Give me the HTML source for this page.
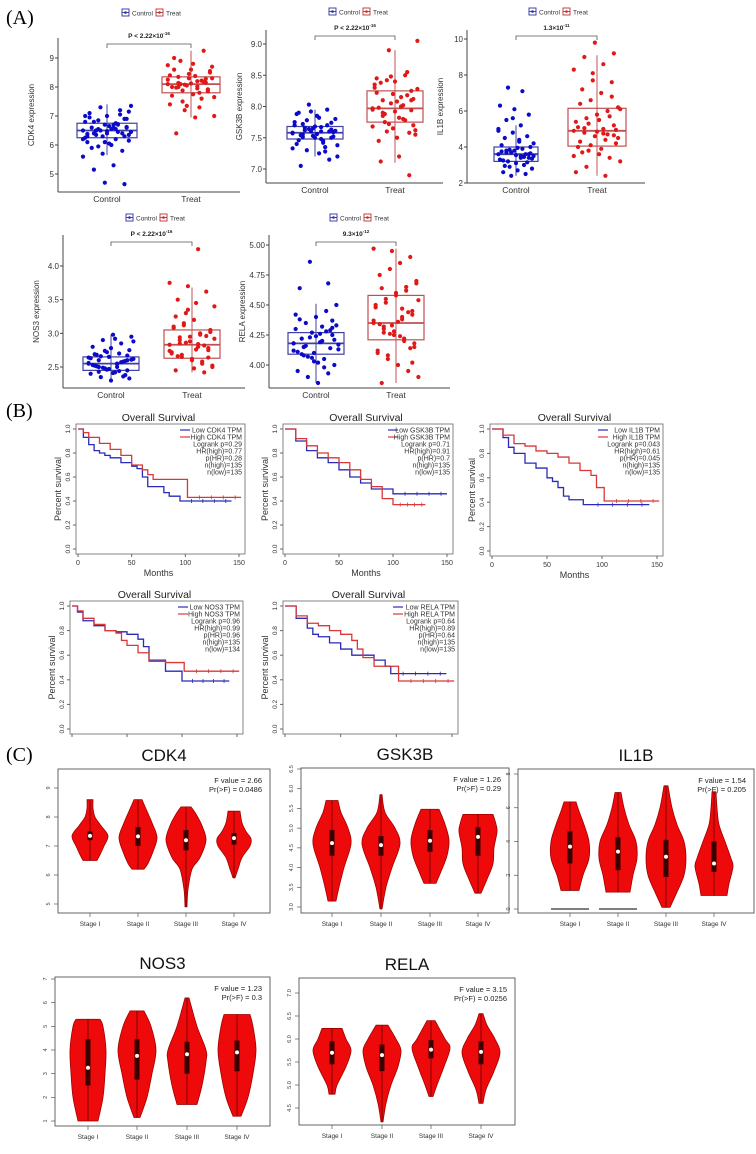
<!DOCTYPE html>
<html><head><meta charset="utf-8"><style>
html,body{margin:0;padding:0;background:#fff;}
svg{display:block;font-family:"Liberation Sans",sans-serif;}
</style></head><body>
<svg id="fig" width="756" height="1154" viewBox="0 0 756 1154" xmlns="http://www.w3.org/2000/svg">
<rect width="756" height="1154" fill="#fff"/>
<text x="6" y="24" font-family="Liberation Serif,serif" font-size="20">(A)</text>
<text x="6" y="417" font-family="Liberation Serif,serif" font-size="20">(B)</text>
<text x="6" y="761" font-family="Liberation Serif,serif" font-size="20">(C)</text>
<g id="root"></g>
</svg>
<script>
// ---------- Panel A: box plot data ----------
const groups = ["Control", "Treat"];
const cdk4Ctrl = [6.5,6.6,6.4,6.3,6.7,6.8,6.2,6.5,6.9,7.0,6.1,6.45,6.55,6.35,6.65,7.1,7.2,7.3,7.35,6.0,5.9,5.8,5.7,5.6,5.3,5.15,4.65,4.7,6.25,6.75,6.5,6.6,6.4,6.3,6.7,6.85,6.15,6.05,6.95,7.05,6.5,6.45,6.55,6.6,6.4,6.3,6.2,6.7,6.8,6.9,6.1,7.0,6.55,6.35,6.62,6.48,6.38,6.72,5.95,7.15];
const cdk4Treat = [8.1,8.2,8.0,7.9,8.3,8.4,7.8,8.1,8.5,8.6,7.7,7.6,7.5,8.7,8.8,9.0,9.25,7.2,7.0,6.95,6.4,8.15,8.05,8.25,7.95,8.35,7.85,8.45,7.4,7.3,8.9,8.55,8.12,8.0,8.22,7.88,8.3,7.75,8.6,8.18,8.08,7.65,8.38,7.98,8.28,7.35,8.75,8.02,8.14,7.92];
const gsk3bCtrl = [7.58,7.6,7.55,7.5,7.65,7.7,7.45,7.62,7.52,7.68,7.4,7.35,7.3,7.8,7.85,7.9,7.95,8.03,7.2,7.25,7.05,7.15,7.6,7.57,7.48,7.72,7.63,7.53,7.75,7.42,7.66,7.59,7.5,7.88,7.28,7.78,7.61,7.56,7.46,7.7,7.64,7.38,7.82,7.54,7.6,7.92,7.33,7.67,7.51,7.74];
const gsk3bTreat = [7.97,8.0,7.9,8.1,8.2,8.3,7.8,7.75,7.7,8.4,8.45,8.5,7.6,7.55,7.5,7.45,8.55,8.9,9.05,7.2,7.12,6.9,8.05,7.95,8.15,7.85,8.25,7.65,8.35,8.02,7.88,8.12,7.92,8.22,7.78,8.42,7.62,8.08,7.98,8.18,7.72,8.28,7.82,8.38,7.58,8.48,7.68,8.0,8.1,7.94];
const il1bCtrl = [3.6,3.5,3.7,3.4,3.8,3.3,3.9,3.2,4.0,3.1,4.1,3.0,2.9,2.8,2.7,2.6,2.5,2.4,4.2,4.4,4.5,4.6,4.8,5.0,5.2,5.5,5.8,6.1,6.3,7.1,7.3,3.65,3.55,3.75,3.45,3.85,3.35,3.95,3.25,3.6,3.7,3.5,4.3,2.95,3.15,5.6,4.9,3.4,3.8,3.6];
const il1bTreat = [4.9,5.0,4.8,5.2,4.6,5.4,4.4,5.6,4.2,5.8,4.0,6.0,3.8,6.2,3.6,6.4,3.4,6.6,3.2,7.0,7.2,7.6,8.1,8.3,8.6,9.0,9.2,9.8,2.6,2.4,2.9,4.95,4.85,5.1,4.7,5.3,4.5,5.5,4.3,5.7,4.1,6.1,3.9,3.7,6.8,7.7,3.5,4.75,5.05,4.65];
const nos3Ctrl = [2.55,2.5,2.6,2.45,2.65,2.4,2.7,2.35,2.75,2.3,2.8,2.85,2.9,2.95,2.98,2.52,2.58,2.48,2.62,2.42,2.68,2.38,2.72,2.56,2.54,2.5,2.6,2.47,2.63,2.44,2.66,2.33,2.78,2.53,2.57,2.49,2.61,2.41,2.69,2.36,2.74,2.88,2.92,2.51,2.59,2.46,2.64,2.55,2.43,2.67];
const nos3Treat = [2.83,2.8,2.9,2.75,2.95,2.7,3.0,2.65,3.05,2.6,3.1,2.55,3.15,2.5,3.2,2.45,2.42,3.3,3.4,3.45,3.5,3.62,3.7,3.75,4.25,2.85,2.78,2.88,2.72,2.98,2.68,3.02,2.62,3.08,2.58,3.12,2.52,2.48,3.25,2.82,2.86,2.92,2.76,2.66,2.96,3.35,2.74,2.84,2.94,2.64];
const relaCtrl = [4.18,4.2,4.15,4.25,4.1,4.3,4.05,4.35,4.0,4.4,3.95,4.45,3.9,4.5,3.85,4.64,4.68,4.86,4.17,4.19,4.22,4.14,4.27,4.12,4.32,4.08,4.37,4.03,4.42,3.98,4.16,4.21,4.24,4.11,4.28,4.07,4.33,4.02,4.38,3.93,4.23,4.13,4.26,4.09,4.29,4.06,4.18,4.2,4.15,4.31];
const relaTreat = [4.35,4.4,4.3,4.45,4.25,4.5,4.2,4.55,4.15,4.6,4.1,4.65,4.05,4.7,4.0,4.75,3.95,4.8,3.9,4.85,3.85,4.9,4.95,4.97,4.38,4.32,4.42,4.28,4.48,4.22,4.52,4.18,4.58,4.12,4.62,4.08,4.68,4.36,4.34,4.44,4.26,4.54,4.24,4.64,4.14,4.33,4.37,4.47,4.27,4.02];
// box stats: [q1, median, q3, whiskerLow, whiskerHigh]
const cdk4Box = [[6.25,6.5,6.75,5.65,7.4],[7.8,8.1,8.35,6.95,9.25]];
const gsk3bBox = [[7.48,7.58,7.68,7.2,7.95],[7.75,7.97,8.25,7.1,8.9]];
const il1bBox = [[3.2,3.6,4.0,2.4,5.2],[4.05,4.9,6.15,2.4,9.1]];
const nos3Box = [[2.45,2.55,2.65,2.3,2.98],[2.63,2.83,3.05,2.42,3.68]];
const relaBox = [[4.09,4.18,4.27,3.85,4.51],[4.21,4.35,4.58,3.85,4.97]];
const cdk4Ticks = [5,6,7,8,9];
const gsk3bTicks = [7.0,7.5,8.0,8.5,9.0];
const il1bTicks = [2,4,6,8,10];
const nos3Ticks = [2.5,3.0,3.5,4.0];
const relaTicks = [4.00,4.25,4.50,4.75,5.00];

// ---------- Panel B: Kaplan-Meier data ----------
const kmTicksX = [0,50,100,150];
const kmTicksY = [0.0,0.2,0.4,0.6,0.8,1.0];
const cdk4LowT = [0,5,10,15,20,25,30,40,50,55,60,65,70,80,85,95,143];
const cdk4LowS = [1,.93,.87,.82,.8,.78,.76,.72,.69,.67,.6,.52,.52,.47,.44,.4,.4];
const cdk4HighT = [0,5,10,20,30,40,50,60,65,70,100,102,152];
const cdk4HighS = [1,.97,.93,.88,.83,.78,.7,.66,.62,.58,.58,.43,.43];
const gsk3bLowT = [0,10,20,30,40,50,60,70,80,90,100,150];
const gsk3bLowS = [1,.9,.82,.76,.72,.66,.6,.55,.5,.5,.46,.46];
const gsk3bHighT = [0,10,20,30,40,50,60,70,80,90,100,130];
const gsk3bHighS = [1,.92,.86,.8,.76,.72,.66,.58,.52,.42,.37,.37];
const il1bLowT = [0,10,15,20,30,40,50,55,60,65,70,83,143];
const il1bLowS = [1,.93,.85,.8,.72,.68,.6,.57,.52,.45,.42,.38,.38];
const il1bHighT = [0,10,20,30,40,50,60,70,80,90,95,102,152];
const il1bHighS = [1,.95,.88,.86,.82,.8,.77,.72,.66,.62,.52,.41,.41];
const nos3LowT = [0,5,10,20,30,40,50,60,65,70,85,90,100,143];
const nos3LowS = [1,.95,.88,.84,.8,.79,.77,.73,.67,.56,.47,.47,.39,.39];
const nos3HighT = [0,5,10,20,30,40,45,50,60,70,85,102,152];
const nos3HighS = [1,.96,.9,.85,.8,.78,.72,.68,.62,.55,.54,.47,.47];
const relaLowT = [0,10,20,25,30,40,50,60,80,90,95,145];
const relaLowS = [1,.9,.82,.77,.75,.7,.65,.6,.56,.51,.45,.45];
const relaHighT = [0,10,20,30,40,50,60,65,70,80,95,102,152];
const relaHighS = [1,.92,.86,.84,.8,.77,.72,.65,.58,.51,.51,.39,.39];

// ---------- Panel C: violin data ----------
const stages = ["Stage I","Stage II","Stage III","Stage IV"];
const cdk4VioV = [[6.5,6.7,7.0,7.35,7.7,8.0,8.3,8.6],[6.2,6.4,6.8,7.3,7.8,8.2,8.6],[4.9,5.5,6.2,6.6,7.2,7.7,8.1,8.35],[5.9,6.2,6.6,7.0,7.25,7.5,7.8,8.2]];
const cdk4VioW = [[.35,.5,.7,.9,.55,.25,.15,.15],[.3,.5,.75,.95,.7,.45,.2],[.05,.1,.3,.7,1,.8,.5,.25],[.05,.2,.4,.8,.85,.6,.4,.3]];
const cdk4VioBox = [[7.2,7.35,7.5],[7.0,7.33,7.65],[6.85,7.2,7.55],[7.05,7.27,7.45]];
const gsk3bVioV = [[3.15,3.5,4.0,4.6,5.0,5.4,5.7],[2.95,3.5,4.0,4.6,5.0,5.4,5.85],[3.6,3.9,4.3,4.7,5.1,5.48],[3.35,3.7,4.1,4.5,4.9,5.1,5.35]];
const gsk3bVioW = [[.2,.35,.6,.95,.8,.45,.3],[.05,.25,.55,.95,.7,.2,.05],[.3,.55,.85,.95,.75,.45],[.15,.45,.75,.8,.95,.9,.75]];
const gsk3bVioBox = [[4.3,4.62,4.95],[4.3,4.57,4.8],[4.4,4.68,4.95],[4.3,4.78,5.02]];
const il1bVioV = [[1.1,2,3,4,5,5.8,6.35],[1.0,2,3,4,5,6,6.9],[0.1,1,2,3,4,5,6,7.3],[0.8,1.5,2.5,3,4,5,6,6.95]];
const il1bVioW = [[.45,.65,.95,.95,.7,.45,.3],[.6,.75,.95,.9,.55,.3,.15],[.2,.55,.9,1,.9,.55,.3,.1],[.65,.75,.95,.85,.55,.25,.15,.1]];
const il1bVioBox = [[2.7,3.7,4.6],[2.3,3.4,4.25],[1.9,3.1,4.1],[2.2,2.7,4.0]];
const nos3VioV = [[1.0,2,3,4,5,5.3],[1.15,2,3,4,5,5.65],[1.7,2.5,3.5,4,5,6.2],[1.2,2,3,4,5,5.5]];
const nos3VioW = [[.5,.75,.85,.9,.75,.6],[.15,.5,.75,.95,.7,.35],[.5,.75,.95,.95,.5,.1],[.2,.55,.8,.95,.8,.65]];
const nos3VioBox = [[2.5,3.25,4.45],[2.75,3.75,4.45],[3.0,3.82,4.35],[3.1,3.9,4.4]];
const relaVioV = [[4.8,5.0,5.4,5.75,6.0,6.23],[4.2,4.6,5.0,5.4,5.75,6.0,6.3],[4.75,5.0,5.4,5.8,6.0,6.4],[4.6,4.9,5.3,5.7,6.0,6.3,6.55]];
const relaVioW = [[.15,.25,.7,.95,.7,.5],[.05,.2,.45,.8,.95,.7,.3],[.1,.3,.65,.95,.7,.2],[.1,.25,.65,.95,.7,.3,.1]];
const relaVioBox = [[5.45,5.7,5.95],[5.3,5.65,5.88],[5.58,5.77,5.98],[5.45,5.72,5.95]];
const cdk4VTicks = [5,6,7,8,9];
const gsk3bVTicks = [3.0,3.5,4.0,4.5,5.0,5.5,6.0,6.5];
const il1bVTicks = [0,2,4,6,8];
const nos3VTicks = [1,2,3,4,5,6,7];
const relaVTicks = [4.5,5.0,5.5,6.0,6.5,7.0];

const NS = "http://www.w3.org/2000/svg";
const root = document.getElementById("root");
function mk(tag, attrs, parent, txt) {
  const e = document.createElementNS(NS, tag);
  for (const k in attrs) e.setAttribute(k, attrs[k]);
  if (txt !== undefined) e.textContent = txt;
  (parent || root).appendChild(e);
  return e;
}
function lin(d0, d1, r0, r1) { return v => r0 + (v - d0) * (r1 - r0) / (d1 - d0); }
function fmt(v, dec) { return v.toFixed(dec); }

// ---------- box plot renderer ----------
function boxPanel(o) {
  const g = mk("g", {});
  
  
  const y = lin(o.t0[0], o.t1[0], o.t0[1], o.t1[1]);
  const ax = mk("line", {x1:o.ax, y1:o.top, x2:o.ax, y2:o.bot, stroke:"#444", "stroke-width":1}, g);
  
  
  const bx = mk("line", {x1:o.ax, y1:o.bot, x2:o.right, y2:o.bot, stroke:"#444", "stroke-width":1}, g);
  
  
  o.ticks.forEach(t => {
    mk("line", {x1:o.ax-3, y1:y(t), x2:o.ax, y2:y(t), stroke:"#444"}, g);
    const tl = mk("text", {x:o.ax-4, y:y(t)+3, "font-size":8, "text-anchor":"end", fill:"#333"}, g, fmt(t, o.dec));
    
    
  });
  const yl = mk("text", {x:0, y:0, "font-size":8, "text-anchor":"middle", fill:"#333", transform:`translate(${o.ax-24},${(o.top+o.bot)/2}) rotate(-90)`}, g, o.label + " expression");
  
  
  const cols = [{p:"#0a0ac8", b:"#4040a0"}, {p:"#e01818", b:"#c05050"}];
  groups.forEach((gn, gi) => {
    const cx = o.cx[gi], hw = o.hw[gi], st = o.box[gi], c = cols[gi];
    const xl = mk("text", {x:cx, y:o.bot+10, "font-size":8.5, "text-anchor":"middle", fill:"#333"}, g, gn);
    
    
    mk("line", {x1:cx, y1:y(st[3]), x2:cx, y2:y(st[4]), stroke:c.b, "stroke-width":1}, g);
    const r = mk("rect", {x:cx-hw, y:y(st[2]), width:2*hw, height:y(st[0])-y(st[2]), fill:"none", stroke:c.b, "stroke-width":1.2}, g);
    
    
    mk("line", {x1:cx-hw, y1:y(st[1]), x2:cx+hw, y2:y(st[1]), stroke:c.b, "stroke-width":1.8}, g);
    const vals = o.vals[gi];
    vals.forEach((v, i) => {
      const jx = (((i * 37) % 23) / 22 - 0.5) * hw * 1.6;
      const pt = mk("circle", {cx:cx + jx, cy:y(v), r:2.1, fill:c.p}, g);
      
      
    });
  });
  const lg = mk("g", {}, g);
  
  
  const lx = o.lx - 28, ly = o.ly;
  [["Control","#3030a0",0],["Treat","#c03030",34]].forEach(([n,c,dx]) => {
    mk("rect", {x:lx+dx, y:ly-4, width:7, height:7, fill:"none", stroke:c, "stroke-width":0.9}, lg);
    mk("line", {x1:lx+dx, y1:ly-0.5, x2:lx+dx+7, y2:ly-0.5, stroke:c, "stroke-width":0.9}, lg);
    mk("circle", {cx:lx+dx+3.5, cy:ly-0.5, r:1.3, fill:c}, lg);
    mk("text", {x:lx+dx+10, y:ly+2.5, "font-size":6.5, fill:"#333"}, lg, n);
  });
  mk("path", {d:`M${o.cx[0]},${o.by+4} V${o.by} H${o.cx[1]} V${o.by+4}`, fill:"none", stroke:"#555", "stroke-width":0.8}, g);
  const pt = mk("text", {x:(o.cx[0]+o.cx[1])/2, y:o.by-6, "font-size":6.5, "font-weight":"bold", "text-anchor":"middle", fill:"#222"}, g);
  
  
  mk("tspan", {}, pt, o.p);
  mk("tspan", {"font-size":4.5, dy:-3}, pt, o.pe);
}
boxPanel({name:"cdk4", label:"CDK4", ax:58, top:38, bot:192, right:240, t0:[9,58], t1:[5,174], ticks:cdk4Ticks, dec:0, cx:[107,191], hw:[30,29], box:cdk4Box, vals:[cdk4Ctrl,cdk4Treat], lx:150, ly:13, by:44, p:"P < 2.22×10", pe:"-16"});
boxPanel({name:"gsk3b", label:"GSK3B", ax:266, top:30, bot:183, right:443, t0:[9,44], t1:[7,169], ticks:gsk3bTicks, dec:1, cx:[315,395], hw:[28,28], box:gsk3bBox, vals:[gsk3bCtrl,gsk3bTreat], lx:357, ly:12, by:36, p:"P < 2.22×10", pe:"-16"});
boxPanel({name:"il1b", label:"IL1B", ax:467, top:30, bot:183, right:645, t0:[10,39], t1:[2,183], ticks:il1bTicks, dec:0, cx:[516,597], hw:[22,29], box:il1bBox, vals:[il1bCtrl,il1bTreat], lx:557, ly:12, by:36, p:"1.3×10", pe:"-11"});
boxPanel({name:"nos3", label:"NOS3", ax:63, top:235, bot:388, right:245, t0:[4,266], t1:[2.5,367], ticks:nos3Ticks, dec:1, cx:[111,192], hw:[28,28], box:nos3Box, vals:[nos3Ctrl,nos3Treat], lx:154, ly:218, by:242, p:"P < 2.22×10", pe:"-16"});
boxPanel({name:"rela", label:"RELA", ax:269, top:235, bot:388, right:450, t0:[5,245], t1:[4,365], ticks:relaTicks, dec:2, cx:[316,396], hw:[28,28], box:relaBox, vals:[relaCtrl,relaTreat], lx:358, ly:218, by:242, p:"9.3×10", pe:"-12"});

// ---------- KM renderer ----------
function kmPanel(o) {
  const g = mk("g", {});
  
  
  const x = lin(0, 150, o.x0, o.x150), y = lin(0, 1, o.y0, o.y1);
  const fr = mk("rect", {x:o.x0-2, y:o.y1-5, width:o.x150-o.x0+8, height:o.y0-o.y1+10, fill:"none", stroke:"#666", "stroke-width":0.8}, g);
  
  
  const tt = mk("text", {x:(o.x0+o.x150)/2, y:o.y1-8, "font-size":10.5, "text-anchor":"middle", fill:"#222"}, g, "Overall Survival");
  
  
  kmTicksX.forEach(t => {
    mk("line", {x1:x(t), y1:o.y0+5, x2:x(t), y2:o.y0+8, stroke:"#666"}, g);
    if (o.xlab) mk("text", {x:x(t), y:o.y0+16, "font-size":7, "text-anchor":"middle", fill:"#333"}, g, t);
  });
  if (o.xlab) {
    const xl = mk("text", {x:(o.x0+o.x150)/2, y:o.y0+27, "font-size":9, "text-anchor":"middle", fill:"#333"}, g, "Months");
    
    
  }
  kmTicksY.forEach(t => {
    mk("line", {x1:o.x0-5, y1:y(t), x2:o.x0-2, y2:y(t), stroke:"#666"}, g);
    mk("text", {x:0, y:0, "font-size":6.5, "text-anchor":"middle", fill:"#333", transform:`translate(${o.x0-8},${y(t)}) rotate(-90)`}, g, t.toFixed(1));
  });
  const yl = mk("text", {x:0, y:0, "font-size":9, "text-anchor":"middle", fill:"#333", transform:`translate(${o.x0-17},${(o.y0+o.y1)/2}) rotate(-90)`}, g, "Percent survival");
  
  
  [[o.lowT,o.lowS,"#2a2ab8","low"],[o.highT,o.highS,"#d83838","high"]].forEach(([T,S,c,n]) => {
    let d = `M${x(T[0])},${y(S[0])}`;
    for (let i = 1; i < T.length; i++) d += ` H${x(T[i])} V${y(S[i])}`;
    const p = mk("path", {d, fill:"none", stroke:c, "stroke-width":1.3}, g);
    
    
    const tl = T[T.length-1], sl = S[S.length-1], tp = T[T.length-2];
    for (let k = 1; k <= 4; k++) {
      const tc = tp + (tl - tp) * k / 4.5;
      mk("line", {x1:x(tc), y1:y(sl)-2, x2:x(tc), y2:y(sl)+2, stroke:c, "stroke-width":0.8}, g);
    }
  });
  const lg = mk("g", {}, g);
  
  
  const rx = o.x150 + 3;
  mk("line", {x1:rx-62, y1:o.y1+1, x2:rx-52, y2:o.y1+1, stroke:"#2a2ab8", "stroke-width":1.2}, lg);
  mk("text", {x:rx, y:o.y1+3.5, "font-size":7, "text-anchor":"end", fill:"#333"}, lg, "Low " + o.gene + " TPM");
  mk("line", {x1:rx-62, y1:o.y1+8, x2:rx-52, y2:o.y1+8, stroke:"#d83838", "stroke-width":1.2}, lg);
  mk("text", {x:rx, y:o.y1+10.5, "font-size":7, "text-anchor":"end", fill:"#333"}, lg, "High " + o.gene + " TPM");
  o.stats.forEach((s, i) => mk("text", {x:rx, y:o.y1+17.5+i*7, "font-size":7, "text-anchor":"end", fill:"#333"}, lg, s));
}
kmPanel({name:"cdk4", gene:"CDK4", x0:78, x150:239, y1:429, y0:549, xlab:true, lowT:cdk4LowT, lowS:cdk4LowS, highT:cdk4HighT, highS:cdk4HighS, stats:["Logrank p=0.29","HR(high)=0.77","p(HR)=0.28","n(high)=135","n(low)=135"]});
kmPanel({name:"gsk3b", gene:"GSK3B", x0:285, x150:447, y1:429, y0:549, xlab:true, lowT:gsk3bLowT, lowS:gsk3bLowS, highT:gsk3bHighT, highS:gsk3bHighS, stats:["Logrank p=0.71","HR(high)=0.91","p(HR)=0.7","n(high)=135","n(low)=135"]});
kmPanel({name:"il1b", gene:"IL1B", x0:492, x150:657, y1:429, y0:551, xlab:true, lowT:il1bLowT, lowS:il1bLowS, highT:il1bHighT, highS:il1bHighS, stats:["Logrank p=0.043","HR(high)=0.61","p(HR)=0.045","n(high)=135","n(low)=135"]});
kmPanel({name:"nos3", gene:"NOS3", x0:72, x150:237, y1:606, y0:729, xlab:false, lowT:nos3LowT, lowS:nos3LowS, highT:nos3HighT, highS:nos3HighS, stats:["Logrank p=0.96","HR(high)=0.99","p(HR)=0.96","n(high)=135","n(low)=134"]});
kmPanel({name:"rela", gene:"RELA", x0:285, x150:452, y1:606, y0:729, xlab:false, lowT:relaLowT, lowS:relaLowS, highT:relaHighT, highS:relaHighS, stats:["Logrank p=0.64","HR(high)=0.89","p(HR)=0.64","n(high)=135","n(low)=135"]});

// ---------- violin renderer ----------
function smooth(P) {
  let d = "";
  for (let i = 0; i < P.length - 1; i++) {
    const p0 = P[Math.max(0, i-1)], p1 = P[i], p2 = P[i+1], p3 = P[Math.min(P.length-1, i+2)];
    const c1x = p1[0] + (p2[0]-p0[0])/6, c1y = p1[1] + (p2[1]-p0[1])/6;
    const c2x = p2[0] - (p3[0]-p1[0])/6, c2y = p2[1] - (p3[1]-p1[1])/6;
    d += ` C${c1x},${c1y} ${c2x},${c2y} ${p2[0]},${p2[1]}`;
  }
  return d;
}
function vioPanel(o) {
  const g = mk("g", {});
  
  
  const y = lin(o.t0[0], o.t1[0], o.t0[1], o.t1[1]);
  const tt = mk("text", {x:(o.l+o.r)/2, y:o.top-8, "font-size":17, "text-anchor":"middle", fill:"#111"}, g, o.gene);
  
  
  const fr = mk("rect", {x:o.l, y:o.top, width:o.r-o.l, height:o.bot-o.top, fill:"none", stroke:"#555", "stroke-width":0.9}, g);
  
  
  o.ticks.forEach(t => {
    mk("line", {x1:o.l-4, y1:y(t), x2:o.l, y2:y(t), stroke:"#555", "stroke-width":0.7}, g);
    mk("text", {x:0, y:0, "font-size":5.5, "text-anchor":"middle", fill:"#444", transform:`translate(${o.l-8},${y(t)}) rotate(-90)`}, g, fmt(t, o.dec));
  });
  const st = mk("text", {x:o.r-8, y:o.top+14, "font-size":7.5, "text-anchor":"end", fill:"#222"}, g, "F value = " + o.f);
  
  
  mk("text", {x:o.r-8, y:o.top+23, "font-size":7.5, "text-anchor":"end", fill:"#222"}, g, "Pr(>F) = " + o.pr);
  stages.forEach((s, i) => {
    const cx = o.sx[i];
    mk("line", {x1:cx, y1:o.bot, x2:cx, y2:o.bot+4, stroke:"#555", "stroke-width":0.7}, g);
    const sl = mk("text", {x:cx, y:o.bot+13, "font-size":6.5, "text-anchor":"middle", fill:"#333"}, g, s);
    
    
    const V = o.V[i], W = o.W[i];
    const R = V.map((v, k) => [cx + W[k]*o.mh, y(v)]);
    const L = V.map((v, k) => [cx - W[k]*o.mh, y(v)]).reverse();
    const d = `M${cx},${y(V[0])} L${R[0][0]},${R[0][1]}` + smooth(R) + ` L${L[0][0]},${L[0][1]}` + smooth(L) + " Z";
    const vp = mk("path", {d, fill:"#ee0a0a", stroke:"#a00000", "stroke-width":0.8, "stroke-linejoin":"round"}, g);
    
    
    mk("line", {x1:cx, y1:y(V[0]), x2:cx, y2:y(V[V.length-1]), stroke:"#500", "stroke-width":0.7}, g);
    const b = o.B[i];
    mk("rect", {x:cx-2.5, y:y(b[2]), width:5, height:y(b[0])-y(b[2]), fill:"#3a0000"}, g);
    mk("circle", {cx:cx, cy:y(b[1]), r:2, fill:"#fff"}, g);
  });
  if (o.zeroLines) o.zeroLines.forEach(i => mk("line", {x1:o.sx[i]-19, y1:y(0), x2:o.sx[i]+19, y2:y(0), stroke:"#333", "stroke-width":1.2}, g));
}
vioPanel({name:"cdk4", gene:"CDK4", l:58, r:270, top:769, bot:913, t0:[9,788], t1:[5,904], ticks:cdk4VTicks, dec:0, sx:[90,138,186,234], mh:20, V:cdk4VioV, W:cdk4VioW, B:cdk4VioBox, f:"2.66", pr:"0.0486"});
vioPanel({name:"gsk3b", gene:"GSK3B", l:301, r:509, top:768, bot:913, t0:[6.5,769], t1:[3.0,907], ticks:gsk3bVTicks, dec:1, sx:[332,381,430,478], mh:20, V:gsk3bVioV, W:gsk3bVioW, B:gsk3bVioBox, f:"1.26", pr:"0.29"});
vioPanel({name:"il1b", gene:"IL1B", l:518, r:754, top:769, bot:913, t0:[8,774], t1:[0,909], ticks:il1bVTicks, dec:0, sx:[570,618,666,714], mh:20, V:il1bVioV, W:il1bVioW, B:il1bVioBox, f:"1.54", pr:"0.205", zeroLines:[0,1]});
vioPanel({name:"nos3", gene:"NOS3", l:55, r:270, top:977, bot:1126, t0:[7,979], t1:[1,1121], ticks:nos3VTicks, dec:0, sx:[88,137,187,237], mh:20, V:nos3VioV, W:nos3VioW, B:nos3VioBox, f:"1.23", pr:"0.3"});
vioPanel({name:"rela", gene:"RELA", l:299, r:515, top:978, bot:1125, t0:[7.0,993], t1:[4.5,1108], ticks:relaVTicks, dec:1, sx:[332,382,431,481], mh:20, V:relaVioV, W:relaVioW, B:relaVioBox, f:"3.15", pr:"0.0256"});
</script>
</body></html>
